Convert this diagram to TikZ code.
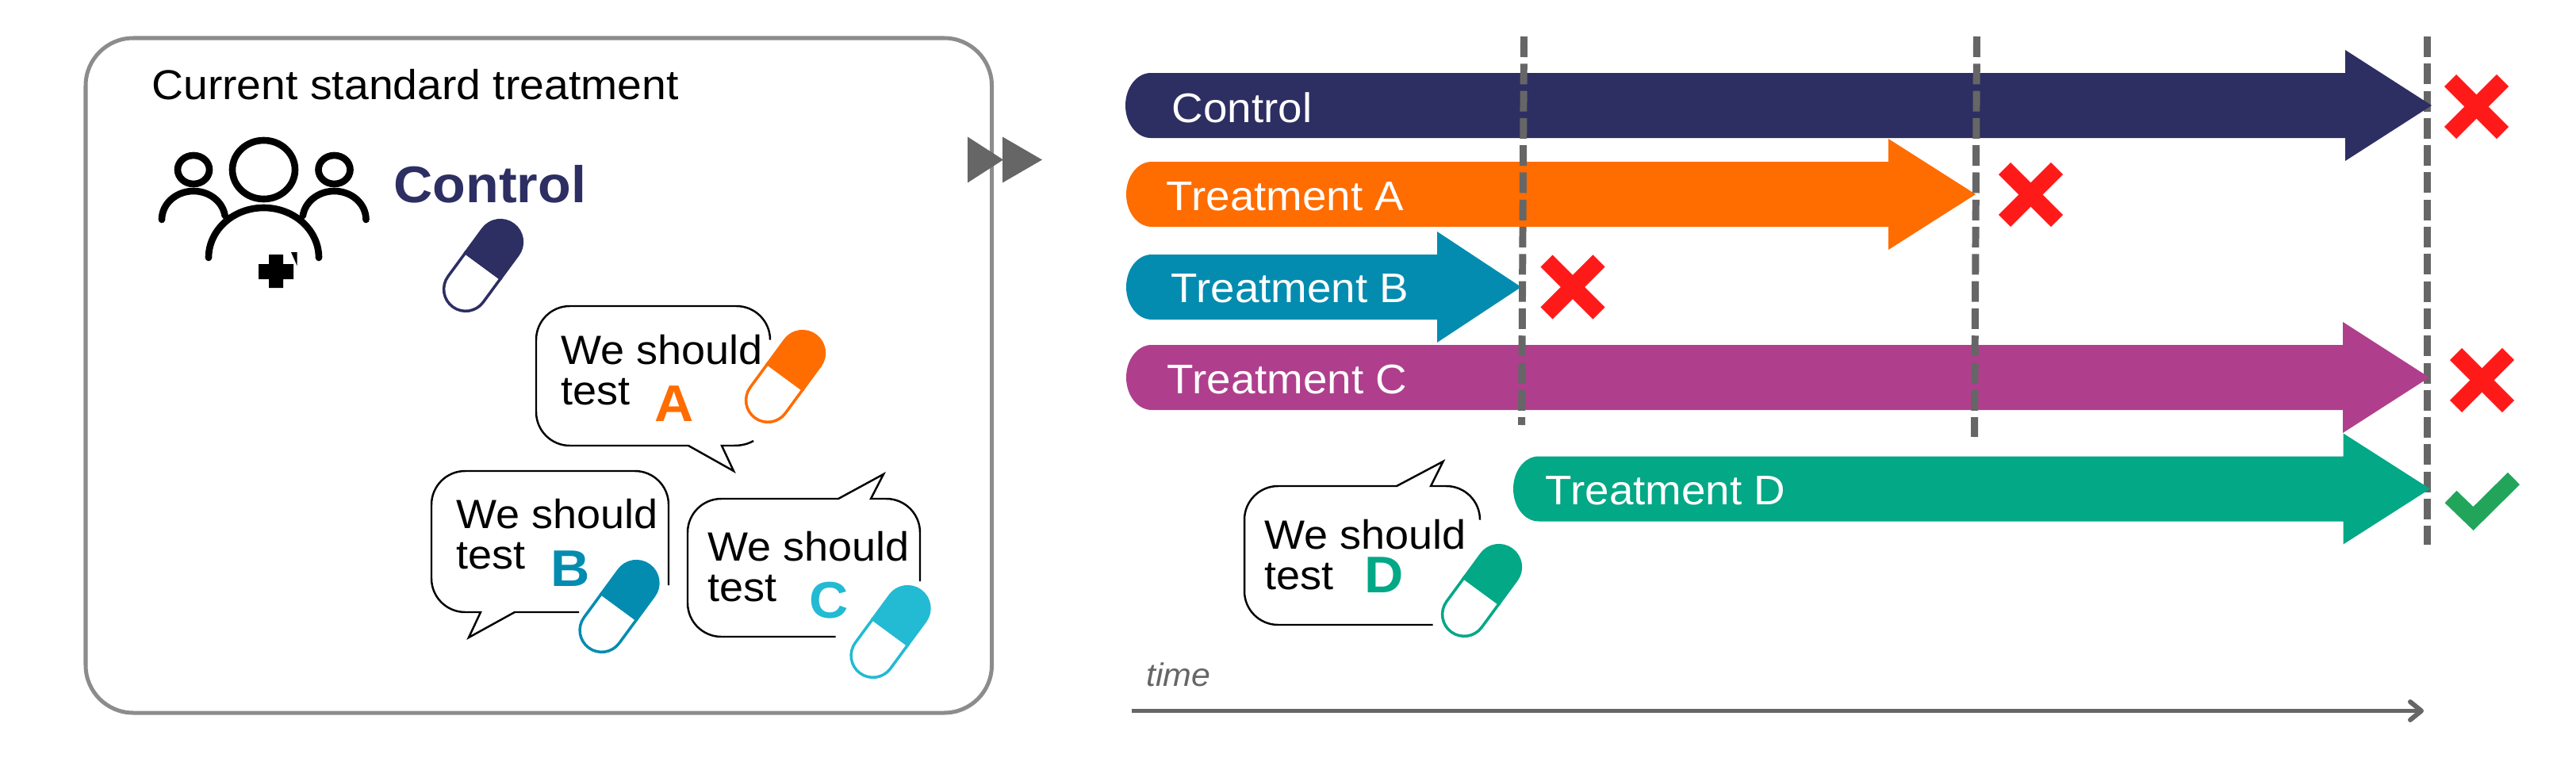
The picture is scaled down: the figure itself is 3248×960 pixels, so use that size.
\documentclass[tikz,border=0pt]{standalone}
\usepackage{fontspec}
\setmainfont[FakeStretch=1.05]{Liberation Sans}
\usetikzlibrary{arrows.meta}
\definecolor{ctrlcolor}{HTML}{2D2E62}
\definecolor{acolor}{HTML}{FF6C00}
\definecolor{bcolor}{HTML}{038CB0}
\definecolor{ccolor}{HTML}{23BAD3}
\definecolor{armcolor}{HTML}{AF3F8D}
\definecolor{dcolor}{HTML}{03A886}
\definecolor{rulegray}{HTML}{666666}
\definecolor{nogo}{HTML}{FF1A1A}
\definecolor{go}{HTML}{22A55B}

\begin{document}
\begin{tikzpicture}[
    x=0.02cm, y=-0.02cm,
    body/.style={font=\fontsize{30}{36}\selectfont, anchor=base west, inner sep=0pt},
    barlabel/.style={body, font=\fontsize{29.7}{36}\selectfont, text=white},
    say/.style={body, font=\fontsize{29.3}{36}\selectfont},
    bigletter/.style={font=\fontsize{37}{37}\selectfont\bfseries, anchor=base west, inner sep=0pt},
    bubble/.style={draw=black, line width=1.4pt, rounded corners=0.85cm},
    stopline/.style={draw=rulegray, line width=5.1pt, dash pattern=on 14.8pt off 4.72pt},
    nomark/.style={draw=nogo, line width=12.2pt},
    person/.style={draw=black, line width=4.9pt, line cap=round},
    pics/pill/.style={code={
      \draw[#1, fill=white, line width=2pt] (-27.5,0) -- (-27.5,37) arc[start angle=180, end angle=0, radius=27.5] -- (27.5,0) -- cycle;
      \draw[#1, fill=#1, line width=2pt] (-27.5,0) -- (-27.5,-37) arc[start angle=180, end angle=360, radius=27.5] -- (27.5,0) -- cycle;
    }},
  ]
  \useasboundingbox (0,0) rectangle (3248,960);

  % Left panel
  \draw[draw=black!45, line width=2.85pt, rounded corners=1.2cm] (108,48) rectangle (1250.5,899);
  \node[body] (title) at (191,125) {Current standard treatment};

  % People
  \draw[person] (332.5,214) ellipse [x radius=39.5, y radius=37];
  \draw[person] (244,214) ellipse [x radius=20, y radius=18];
  \draw[person] (421.5,214) ellipse [x radius=20, y radius=18];
  \draw[person] (263,325) arc[start angle=180, end angle=360, x radius=69.5, y radius=63];
  \draw[person] (204,277) arc[start angle=180, end angle=352, x radius=40, y radius=36];
  \draw[person] (461.5,277) arc[start angle=0, end angle=-172, x radius=40, y radius=36];
  \fill[black] (339,321) -- (357,321) -- (357,333) -- (370,333) -- (370,352) -- (357,352) -- (357,363) -- (339,363)
    -- (339,352) -- (326,352) -- (326,333) -- (339,333) -- cycle;
  \fill[black] (367,318) -- (374.5,318) -- (374.5,335) -- cycle;
  \node[bigletter, text=ctrlcolor] (ctrl) at (496,255) {Control};

  % Speech bubbles
  \draw[bubble] (971,428) -- (971,386) -- (676,386) -- (676,562) [sharp corners] -- (868,562) -- (925,594) -- (910,562)
    -- (925,562) .. controls (935,562) and (943,560) .. (950,556);
  \draw[bubble] (843,738) -- (843,594) -- (544,594) -- (544,772) [sharp corners] -- (606,772) -- (591,804) -- (649,772) -- (730,772);
  \draw[bubble] (1053.5,803) -- (867,803) -- (867,629) [sharp corners] -- (1057,629) -- (1114,598) -- (1098,629) -- (1115,629)
    [rounded corners=0.85cm] -- (1160,629) -- (1160,733);
  \draw[bubble] (1806.5,788) -- (1569,788) -- (1569,613) [sharp corners] -- (1761,613) -- (1819.5,582) -- (1804,613) -- (1823,613)
    [rounded corners=0.85cm] -- (1866,613) -- (1866,655);

  \node[say] (sayA) at (707,459) {We should};
  \node[say] (testA) at (707,510.5) {test};
  \node[say] (sayB) at (575,666) {We should};
  \node[say] (testB) at (575,717) {test};
  \node[say] (sayC) at (892,707) {We should};
  \node[say] (testC) at (892,758) {test};
  \node[say] (sayD) at (1594,692.5) {We should};
  \node[say] (testD) at (1594,743) {test};
  \node[bigletter, text=acolor] (letA) at (825,531.5) {A};
  \node[bigletter, text=bcolor] (letB) at (694,739) {B};
  \node[bigletter, text=ccolor] (letC) at (1020,779) {C};
  \node[bigletter, text=dcolor] (letD) at (1720,747.5) {D};

  % Pills
  \pic[rotate=-36.3] (pillctrl) at (609,335) {pill=ctrlcolor};
  \pic[rotate=-36.3] (pillA) at (990,475) {pill=acolor};
  \pic[rotate=-36.3] (pillB) at (780.5,765) {pill=bcolor};
  \pic[rotate=-36.3] (pillC) at (1122.5,797) {pill=ccolor};
  \pic[rotate=-36.3] (pillD) at (1868,745) {pill=dcolor};

  % Panel-to-timeline triangles
  \fill[rulegray] (1220,172.5) -- (1265,201.5) -- (1220,230.5) -- cycle;
  \fill[rulegray] (1264,172.5) -- (1314,201.5) -- (1264,230.5) -- cycle;

  % Last stop line runs under the arrow tips
  \draw[stopline] (3060.5,46) -- (3060.5,687);

  % Arms
  \foreach \xl/\ym/\xb/\xt/\barcol in {1419/133/2957/3066/ctrlcolor, 1420/245/2381/2491/acolor, 1420/362/1812/1918/bcolor,
      1420/476/2954/3063/armcolor, 1908/616.5/2954.5/3064/dcolor} {
    \fill[\barcol] (\xl+32,\ym-41) -- (\xb,\ym-41) -- (\xb,\ym-70) -- (\xt,\ym) -- (\xb,\ym+70) -- (\xb,\ym+41) -- (\xl+32,\ym+41)
      arc[start angle=90, end angle=270, x radius=32, y radius=41] -- cycle;
  }

  % Stop lines
  \draw[stopline] (1921.5,46) -- (1918.5,536);
  \draw[stopline] (2492.5,46) -- (2489.5,551);

  % Arm labels
  \node[barlabel] (armctrl) at (1477.5,154) {Control};
  \node[barlabel] (armA) at (1470.5,265) {Treatment A};
  \node[barlabel] (armB) at (1476.5,381.5) {Treatment B};
  \node[barlabel] (armC) at (1471.5,496.5) {Treatment C};
  \node[barlabel] (armD) at (1948.5,636.5) {Treatment D};

  % Outcomes
  \foreach \cx/\cy in {3122.5/134.5, 2560.5/245.5, 1983/362, 3129.5/479.5} {
    \draw[nomark] (\cx-33,\cy-33) -- (\cx+33,\cy+33);
    \draw[nomark] (\cx+33,\cy-33) -- (\cx-33,\cy+33);
  }
  \draw[draw=go, line width=12.2pt, miter limit=4] (3090,626.5) -- (3118.5,654) -- (3169.5,603.5);

  % Time axis
  \node[font=\fontsize{23.3}{28}\selectfont\itshape, text=rulegray, anchor=base west, inner sep=0pt] (timelabel) at (1445,865.5) {time};
  \coordinate (tstart) at (1426.5,896.5);
  \coordinate (tend) at (3056,896.5);
  \draw[draw=rulegray, line width=3.4pt, -{Straight Barb[length=8pt, width=13pt, round]}] (tstart) -- (tend);
\end{tikzpicture}
\end{document}
